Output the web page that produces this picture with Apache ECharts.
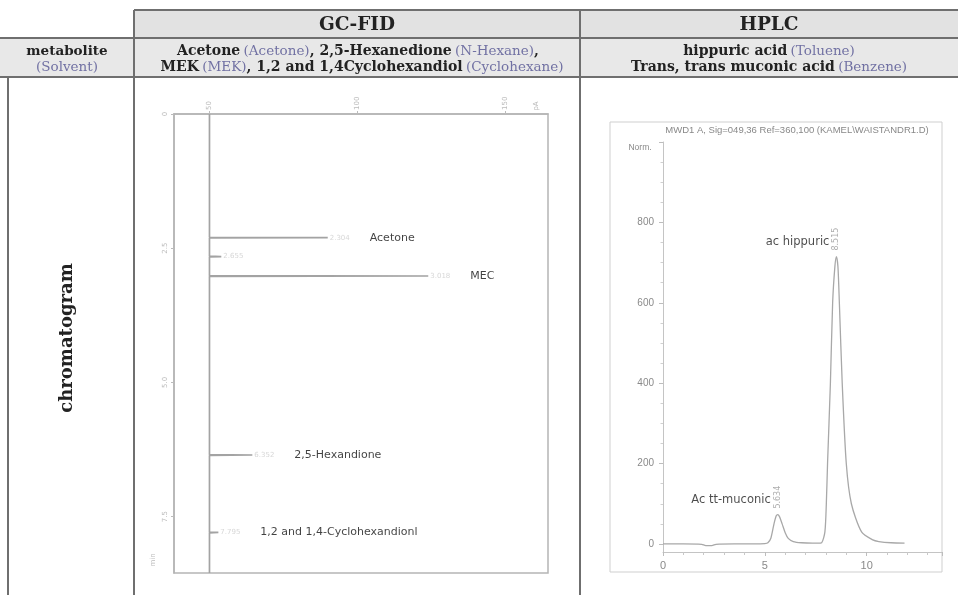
<!DOCTYPE html>
<html>
<head>
<meta charset="utf-8">
<script src="https://cdn.jsdelivr.net/npm/echarts@6/dist/echarts.min.js"></script>
<style>
  html, body { margin: 0; padding: 0; background: #fff; }
  #chart { width: 958px; height: 595px; }
</style>
</head>
<body>
<div id="chart"></div>
<script>
// ---- GC-FID trace: retention time runs downward, signal (pA) to the right ----
const gcPeakNames   = ['Acetone', '', 'MEC', '2,5-Hexandione', '1,2 and 1,4-Cyclohexandionl'];
const gcPeakTimes   = [2.304, 2.655, 3.018, 6.352, 7.795];
const gcPeakHeights = [90, 54, 124, 64.5, 53];
const gcBaseline    = 50;
const gcRunEnd      = 8.55;
const gcTimeTicks   = [0, 2.5, 5, 7.5];
const gcSignalTicks = [50, 100, 150];

// ---- HPLC trace (MWD1 A) ----
const lcTime = [0, 1.0, 1.9, 2.1, 2.4, 2.6, 3.5, 4.5, 5.0, 5.15, 5.3, 5.45, 5.56, 5.634, 5.72, 5.85, 6.0, 6.15, 6.4, 6.8, 7.35, 7.6, 7.79,
                7.95, 8.02, 8.08, 8.22, 8.33, 8.44, 8.515, 8.59, 8.66, 8.8, 9.0, 9.25, 9.75, 10.3, 10.6, 11.2, 11.86];
const lcSignal = [0, 0, -1, -4, -4, -1, 0, 0, 1, 3, 15, 50, 70, 73, 68, 50, 28, 14, 6, 3, 2, 2, 3,
                  30, 100, 200, 400, 600, 690, 715, 690, 600, 400, 200, 100, 30, 10, 6, 3, 2];
const lcPeakNames = ['Ac tt-muconic', 'ac hippuric'];
const lcPeakTimes = [5.634, 8.515];
const lcPeakHeights = [73, 715];
const lcYTicks = [0, 200, 400, 600, 800, 1000];
const lcYLabels = [0, 200, 400, 600, 800];
const lcYMinorTicks = [50, 100, 150, 250, 300, 350, 450, 500, 550, 650, 700, 750, 850, 900, 950];

// GC trace assembled from the baseline and the narrow peaks
const gcTrace = [[gcBaseline, 0]];
gcPeakTimes.forEach((t, i) => {
  gcTrace.push([gcBaseline, t - 0.006], [gcPeakHeights[i], t], [gcBaseline, t + 0.006]);
});
gcTrace.push([gcBaseline, gcRunEnd]);

const lcTrace = lcTime.map((t, i) => [t, lcSignal[i]]);

const SERIF = '"DejaVu Serif", "Liberation Serif", serif';
const SANS = '"DejaVu Sans", "Liberation Sans", sans-serif';
const LINE = '#6f6f6f';
const MUTED = '#7171a3';

const chart = echarts.init(document.getElementById('chart'), null, { renderer: 'canvas' });

const richHead = {
  b: { font: 'bold 14px ' + SERIF, fill: '#222' },
  p: { font: '13.5px ' + SERIF, fill: MUTED }
};

// table frame, headers and row caption
const tableGraphics = [
  { type: 'rect', shape: { x: 134, y: 10, width: 824, height: 28 }, style: { fill: '#e2e2e2' }, z: 0 },
  { type: 'rect', shape: { x: 0, y: 38, width: 958, height: 39 }, style: { fill: '#e8e8e8' }, z: 0 },
  { type: 'line', shape: { x1: 134, y1: 10, x2: 958, y2: 10 }, style: { stroke: LINE, lineWidth: 2 } },
  { type: 'line', shape: { x1: 0, y1: 38, x2: 958, y2: 38 }, style: { stroke: LINE, lineWidth: 2 } },
  { type: 'line', shape: { x1: 0, y1: 77, x2: 958, y2: 77 }, style: { stroke: LINE, lineWidth: 2 } },
  { type: 'line', shape: { x1: 134, y1: 10, x2: 134, y2: 595 }, style: { stroke: LINE, lineWidth: 2 } },
  { type: 'line', shape: { x1: 580, y1: 10, x2: 580, y2: 595 }, style: { stroke: LINE, lineWidth: 2 } },
  { type: 'line', shape: { x1: 8, y1: 77, x2: 8, y2: 595 }, style: { stroke: LINE, lineWidth: 2 } },
  { type: 'text', x: 357, y: 25, style: { text: 'GC-FID', font: 'bold 18.5px ' + SERIF, fill: '#222', align: 'center', verticalAlign: 'middle' } },
  { type: 'text', x: 769, y: 25, style: { text: 'HPLC', font: 'bold 18.5px ' + SERIF, fill: '#222', align: 'center', verticalAlign: 'middle' } },
  { type: 'text', x: 67, y: 51, style: { text: 'metabolite', font: 'bold 13.5px ' + SERIF, fill: '#222', align: 'center', verticalAlign: 'middle' } },
  { type: 'text', x: 67, y: 67, style: { text: '(Solvent)', font: '13.5px ' + SERIF, fill: MUTED, align: 'center', verticalAlign: 'middle' } },
  { type: 'text', x: 358, y: 51, style: {
      text: '{b|Acetone} {p|(Acetone)}{b|, 2,5-Hexanedione} {p|(N-Hexane)}{b|,}',
      align: 'center', verticalAlign: 'middle', rich: richHead } },
  { type: 'text', x: 362, y: 67, style: {
      text: '{b|MEK} {p|(MEK)}{b|, 1,2 and 1,4Cyclohexandiol} {p|(Cyclohexane)}',
      align: 'center', verticalAlign: 'middle', rich: richHead } },
  { type: 'text', x: 769, y: 51, style: {
      text: '{b|hippuric acid} {p|(Toluene)}',
      align: 'center', verticalAlign: 'middle', rich: richHead } },
  { type: 'text', x: 769, y: 67, style: {
      text: '{b|Trans, trans muconic acid} {p|(Benzene)}',
      align: 'center', verticalAlign: 'middle', rich: richHead } },
  { type: 'text', x: 67, y: 338, rotation: Math.PI / 2, style: { text: 'chromatogram', font: 'bold 18px ' + SERIF, fill: '#222', align: 'center', verticalAlign: 'middle' } },
  // HPLC report frame and captions
  { type: 'rect', shape: { x: 610, y: 122, width: 332, height: 450 }, style: { fill: 'none', stroke: '#cfcfcf', lineWidth: 1 } },
  { type: 'text', x: 797, y: 130, style: { text: 'MWD1 A, Sig=049,36 Ref=360,100 (KAMEL\\WAISTANDR1.D)', font: '9.5px "Liberation Sans", sans-serif', fill: '#888', align: 'center', verticalAlign: 'middle' } },
  { type: 'text', x: 640, y: 148, style: { text: 'Norm.', font: '8.5px "Liberation Sans", sans-serif', fill: '#888', align: 'center', verticalAlign: 'middle' } },
  // GC axis units
  { type: 'text', x: 536, y: 106, rotation: Math.PI / 2, style: { text: 'pA', font: '7px ' + SANS, fill: '#bbb', align: 'center', verticalAlign: 'middle' } },
  { type: 'text', x: 153, y: 560, rotation: Math.PI / 2, style: { text: 'min', font: '7px ' + SANS, fill: '#bbb', align: 'center', verticalAlign: 'middle' } }
];

const option = {
  animation: false,
  backgroundColor: '#fff',
  grid: [
    { left: 174, right: 410, top: 114, bottom: 22, show: true, borderColor: '#b5b5b5', borderWidth: 1.5, backgroundColor: 'transparent' },
    { left: 663, right: 16, top: 142, bottom: 43 }
  ],
  xAxis: [
    {
      gridIndex: 0, type: 'value', position: 'top', min: 38, max: 164.5,
      axisLine: { show: true, lineStyle: { color: '#b5b5b5', width: 1.5 } },
      axisTick: { show: true, customValues: gcSignalTicks, length: 3, lineStyle: { color: '#bbb' } },
      axisLabel: { customValues: gcSignalTicks, rotate: 90, fontSize: 7, color: '#bbb', fontFamily: SANS, margin: 4 },
      splitLine: { show: false }
    },
    {
      gridIndex: 1, type: 'value', min: 0, max: 13.7, interval: 5,
      axisLine: { onZero: false, lineStyle: { color: '#c4c4c4', width: 1 } },
      axisTick: { show: true, length: 4, lineStyle: { color: '#bdbdbd' } },
      minorTick: { show: true, splitNumber: 5, length: 3, lineStyle: { color: '#c8c8c8' } },
      axisLabel: { color: '#8a8a8a', fontSize: 11, fontFamily: '"Liberation Sans", sans-serif', margin: 8, showMaxLabel: false },
      splitLine: { show: false }
    }
  ],
  yAxis: [
    {
      gridIndex: 0, type: 'value', inverse: true, min: 0, max: gcRunEnd,
      axisLine: { show: true, lineStyle: { color: '#b5b5b5', width: 1.5 } },
      axisTick: { show: true, customValues: gcTimeTicks, length: 3, lineStyle: { color: '#bbb' } },
      axisLabel: { customValues: gcTimeTicks, rotate: 90, fontSize: 7, color: '#bbb', fontFamily: SANS, margin: 5,
                   formatter: v => (v === 0 ? '0' : v.toFixed(1)) },
      splitLine: { show: false }
    },
    {
      gridIndex: 1, type: 'value', position: 'left', min: -20, max: 1000,
      axisLine: { show: true, lineStyle: { color: '#c4c4c4', width: 1 } },
      axisTick: { show: true, customValues: lcYTicks, length: 4, lineStyle: { color: '#bdbdbd' } },
      axisLabel: { customValues: lcYLabels, color: '#8a8a8a', fontSize: 10, fontFamily: '"Liberation Sans", sans-serif', margin: 9 },
      splitLine: { show: false }
    },
    {
      gridIndex: 1, type: 'value', position: 'left', offset: 0, min: -20, max: 1000,
      axisLine: { show: false },
      axisTick: { show: true, customValues: lcYMinorTicks, length: 2.5, lineStyle: { color: '#d0d0d0' } },
      axisLabel: { show: false },
      splitLine: { show: false }
    }
  ],
  series: [
    {
      type: 'line', xAxisIndex: 0, yAxisIndex: 0, data: gcTrace,
      symbol: 'none', lineStyle: { color: '#a3a3a3', width: 1.7 }, z: 3
    },
    {
      type: 'scatter', xAxisIndex: 0, yAxisIndex: 0, symbolSize: 0,
      data: gcPeakTimes.map((t, i) => ({ value: [gcPeakHeights[i], t], name: gcPeakNames[i] })),
      label: {
        show: true, position: 'right', distance: 2,
        formatter: p => '{t|' + p.value[1].toFixed(3) + '}' + (p.name ? '{n|' + p.name + '}' : ''),
        rich: {
          t: { fontSize: 7, color: '#cdcdcd', fontFamily: SANS, width: 40 },
          n: { fontSize: 11, color: '#111', fontFamily: SANS }
        }
      },
      z: 4
    },
    {
      type: 'line', xAxisIndex: 1, yAxisIndex: 1, data: lcTrace,
      symbol: 'none', smooth: 0.25, lineStyle: { color: '#a8a8a8', width: 1.3 }, z: 3
    },
    {
      type: 'scatter', xAxisIndex: 1, yAxisIndex: 1, symbolSize: 0,
      data: lcPeakTimes.map((t, i) => [t, lcPeakHeights[i]]),
      label: {
        show: true, position: 'top', distance: 6, rotate: 90, align: 'left', verticalAlign: 'middle',
        formatter: p => p.value[0].toFixed(3),
        fontSize: 8, color: '#999', fontFamily: SANS
      },
      z: 4
    },
    {
      type: 'scatter', xAxisIndex: 1, yAxisIndex: 1, symbolSize: 0,
      data: lcPeakTimes.map((t, i) => ({ value: [t, lcPeakHeights[i]], name: lcPeakNames[i] })),
      label: {
        show: true, position: 'left', distance: 7, offset: [0, -15],
        formatter: p => p.name,
        fontSize: 11.5, color: '#1e1e1e', fontFamily: SANS
      },
      z: 4
    }
  ],
  graphic: tableGraphics
};

chart.setOption(option);
</script>
</body>
</html>
